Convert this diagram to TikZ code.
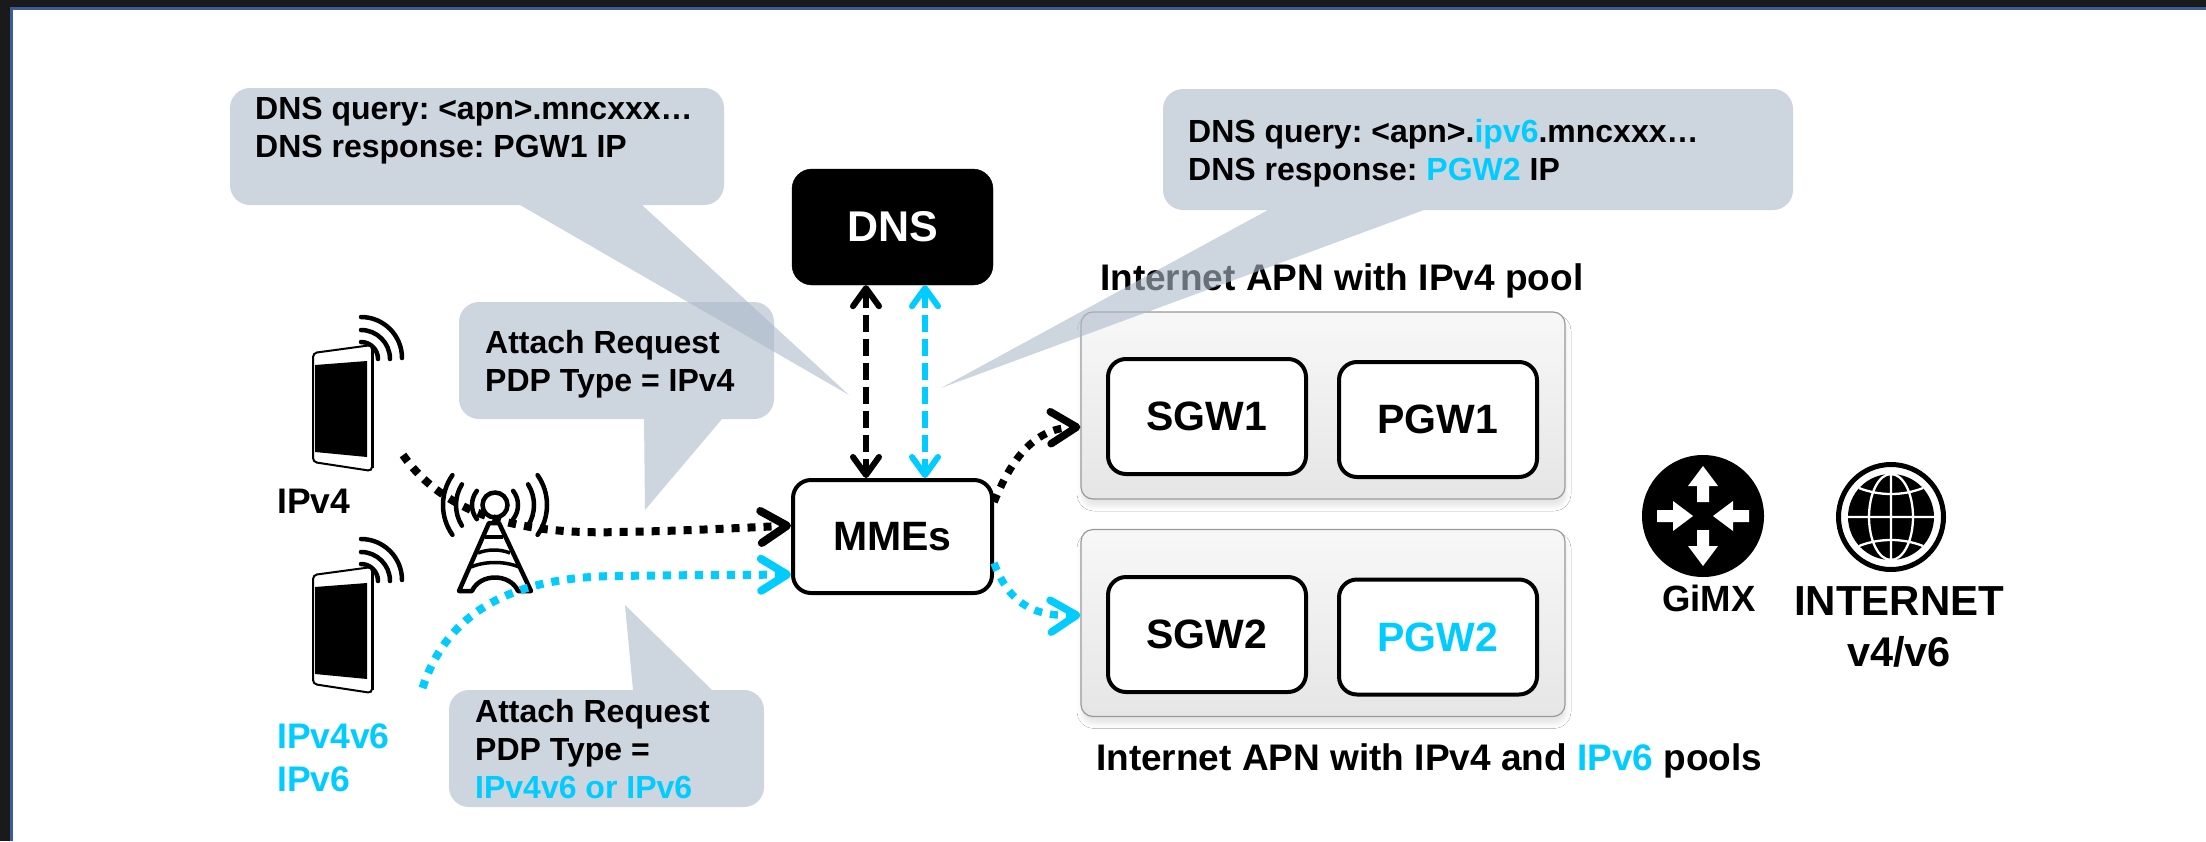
\documentclass[tikz,border=0pt]{standalone}
\usepackage{fontspec}
\setmainfont{Liberation Sans}
\usetikzlibrary{arrows.meta,shadows.blur}
\definecolor{ltblue}{HTML}{00CCFF}
\definecolor{bubblegray}{HTML}{ADB9CA}
\definecolor{framedark}{HTML}{1A1A1A}
\definecolor{frameblue}{HTML}{3A5C9A}
\newcommand{\lb}[1]{\textcolor{ltblue}{#1}}
\tikzset{
  txt/.style={font=\fontsize{32}{38}\selectfont\bfseries\frenchspacing,anchor=base west,inner sep=0pt,align=left},
  hdr/.style={font=\fontsize{37}{44}\selectfont\bfseries,anchor=base west,inner sep=0pt},
  lbl/.style={font=\fontsize{35.5}{43}\selectfont\bfseries,anchor=base west,inner sep=0pt,align=left},
  bubble/.style={fill=bubblegray,fill opacity=0.6},
  gwbox/.style={draw,fill=white,line width=4pt,rounded corners=18pt,inner sep=0pt,minimum width=198pt,minimum height=115pt,font=\fontsize{41}{49}\selectfont\bfseries},
  apnbox/.style={draw=black!40,line width=1.2pt,rounded corners=12pt,top color=black!3,bottom color=black!10,inner sep=0pt,minimum width=484pt,minimum height=187pt,blur shadow={shadow xshift=1pt,shadow yshift=-7pt,shadow blur radius=5pt,shadow opacity=10}},
  dashlink/.style={line width=6pt,dash pattern=on 17pt off 7pt,{Straight Barb[length=18pt,width=26pt,round]}-{Straight Barb[length=18pt,width=26pt,round]}},
  dotlink/.style={line width=8pt,dash pattern=on 8pt off 8pt,-{Straight Barb[length=26pt,width=32pt,round]}},
  smalldot/.style={line width=7.5pt,dash pattern=on 8pt off 8pt,-{Straight Barb[length=26pt,width=32pt,round]}},
  phone/.pic={
    \draw[line width=4.5pt,line cap=round] (-11,-3) arc (-90:0:17);
    \draw[line width=4.5pt,line cap=round] (-11,-15) arc (-90:0:29);
    \draw[line width=4.5pt,line cap=round] (-11,-28) arc (-90:0:41);
    \draw[fill=white,line width=2pt,rounded corners=4pt] (-59,8) -- (0,0) -- (0,126) -- (-59,117) -- cycle;
    \draw[line width=3pt] (0,3) -- (0,123);
    \fill (-57,20) -- (-5,16) -- (-5,112) -- (-57,107) -- cycle;
  }
}
\begin{document}
\begin{tikzpicture}[x=1pt,y=-1pt]
  \useasboundingbox (0,0) rectangle (2206,841);
  \fill[framedark] (0,0) rectangle (2206,841);
  \fill[frameblue] (10,7) rectangle (2206,841);
  \fill[white] (12.5,10) rectangle (2206,841);

  \node[hdr] (apnalabel) at (1100,290) {Internet APN with IPv4 pool};
  \node[hdr] (apnblabel) at (1096,770) {Internet APN with IPv4 and \lb{IPv6} pools};
  \node[apnbox] (apna) at (1323,405.5) {};
  \node[apnbox] (apnb) at (1323,623) {};
  \node[gwbox] (sgwa) at (1207,416.5) {SGW1};
  \node[gwbox] (pgwa) at (1438,419.5) {PGW1};
  \node[gwbox] (sgwb) at (1207,634.5) {SGW2};
  \node[gwbox,text=ltblue] (pgwb) at (1438,637) {PGW2};

  \path[bubble,rounded corners=20pt] (230,88) -- (724,88) -- (724,205) [sharp corners] -- (642,205) -- (849,395) -- (520,205) [rounded corners=20pt] -- (230,205) -- cycle;
  \path[bubble,rounded corners=20pt] (459,302) -- (774,302) -- (774,419) [sharp corners] -- (722,419) -- (645,510) -- (644,419) [rounded corners=20pt] -- (459,419) -- cycle;
  \path[bubble,rounded corners=20pt] (764,690) -- (764,807) -- (449,807) -- (449,690) [sharp corners] -- (633,690) -- (625,605) -- (712,690) [rounded corners=20pt] -- cycle;
  \path[bubble,rounded corners=20pt] (1163,89) -- (1793,89) -- (1793,210) [sharp corners] -- (1424,210) -- (941,388) -- (1268,210) [rounded corners=20pt] -- (1163,210) -- cycle;

  \node[txt] (querya) at (255,157) {DNS query: <apn>.mncxxx…\\DNS response: PGW1 IP};
  \node[txt] (attacha) at (485,391) {Attach Request\\PDP Type = IPv4};
  \node[txt] (attachb) at (475,798) {Attach Request\\PDP Type =\\\lb{IPv4v6 or IPv6}};
  \node[txt] (queryb) at (1188,180) {DNS query: <apn>.\lb{ipv6}.mncxxx…\\DNS response: \lb{PGW2} IP};

  \node[draw,fill=black,text=white,rounded corners=20pt,inner sep=0pt,minimum width=201pt,minimum height=116pt,font=\fontsize{43}{52}\selectfont\bfseries] (dns) at (892.5,227) {DNS};
  \node[gwbox,minimum width=199pt,minimum height=113pt] (mmes) at (892.5,536.5) {MMEs};

  \pic at (372,345) {phone};
  \pic at (372,567) {phone};
  \coordinate (phonea) at (403,455);
  \coordinate (phoneb) at (422.5,688);
  \node[lbl] (ipva) at (277,513) {IPv4};
  \node[lbl,text=ltblue] (ipvb) at (277,791) {IPv4v6\\IPv6};

  \draw[line width=4.5pt] (495,505) circle (12.5);
  \foreach \r/\a in {23/38,39/32,52/35} {
    \draw[line width=4.5pt,line cap=round] (495,505) ++(180-\a:\r) arc (180-\a:180+\a:\r);
    \draw[line width=4.5pt,line cap=round] (495,505) ++(-\a:\r) arc (-\a:\a:\r);
  }
  \draw[line width=4.5pt,line cap=round,line join=round] (489,523) -- (459,591) -- (472,591) .. controls (480,573) and (510,573) .. (518,591) -- (531,591) -- (499,523) -- cycle;
  \draw[line width=3.5pt] (485,537) -- (503,537);
  \draw[line width=3.5pt] (478,553) .. controls (488,549) and (500,549) .. (510,553);
  \draw[line width=3.5pt] (471,567) .. controls (485,561) and (505,561) .. (519,567);

  \draw[dashlink] ([xshift=-26.5pt]dns.south) -- ([xshift=-26.5pt]mmes.north);
  \draw[dashlink,ltblue] ([xshift=32.5pt]dns.south) -- ([xshift=32.5pt]mmes.north);
  \draw[dotlink] (phonea) .. controls (445,515) and (520,535) .. (620,532) .. controls (680,531) and (740,528) .. ([yshift=11pt]mmes.west);
  \draw[dotlink,ltblue] (phoneb) .. controls (445,620) and (500,577) .. (617,576) .. controls (680,575) and (740,575) .. ([yshift=-38pt]mmes.west);
  \draw[smalldot] ([yshift=34.5pt]mmes.east) .. controls (1015,450) and (1040,428) .. ([yshift=-21.5pt]apna.west);
  \draw[smalldot,ltblue] ([yshift=-26.5pt]mmes.east) .. controls (1008,600) and (1030,617) .. ([yshift=8pt]apnb.west);

  \node[circle,fill=black,inner sep=0pt,minimum size=122pt] (router) at (1703,516) {};
  \foreach \a in {0,180} {
    \fill[white,shift={(router.center)},rotate=\a] (0,-50) -- (15,-30) -- (6,-30) -- (6,-14) -- (-6,-14) -- (-6,-30) -- (-15,-30) -- cycle;
  }
  \foreach \a in {0,180} {
    \fill[white,shift={(router.center)},rotate=\a] (-10,0) -- (-30,15) -- (-30,6) -- (-46,6) -- (-46,-6) -- (-30,-6) -- (-30,-15) -- cycle;
  }
  \node[font=\fontsize{36.5}{44}\selectfont\bfseries,anchor=base,inner sep=0pt] (gimx) at (1709,611) {GiMX};

  \node[circle,draw,line width=5pt,inner sep=0pt,minimum size=105pt] (globe) at (1891,517) {};
  \begin{scope}[shift={(globe.center)}]
    \fill (0,0) circle (43);
    \draw[white,line width=2.3pt] (-43,0) -- (43,0) (0,-43) -- (0,43) (0,0) ellipse (22 and 43);
    \draw[white,line width=2.3pt] (-32,-29) .. controls (-12,-21) and (12,-21) .. (32,-29);
    \draw[white,line width=2.3pt] (-32,29) .. controls (-12,21) and (12,21) .. (32,29);
  \end{scope}
  \node[font=\fontsize{42}{51}\selectfont\bfseries,anchor=base,inner sep=0pt] (inet) at (1899,615) {INTERNET};
  \node[font=\fontsize{41.5}{50}\selectfont\bfseries,anchor=base,inner sep=0pt] (inetver) at (1899,666) {v4/v6};
\end{tikzpicture}
\end{document}
